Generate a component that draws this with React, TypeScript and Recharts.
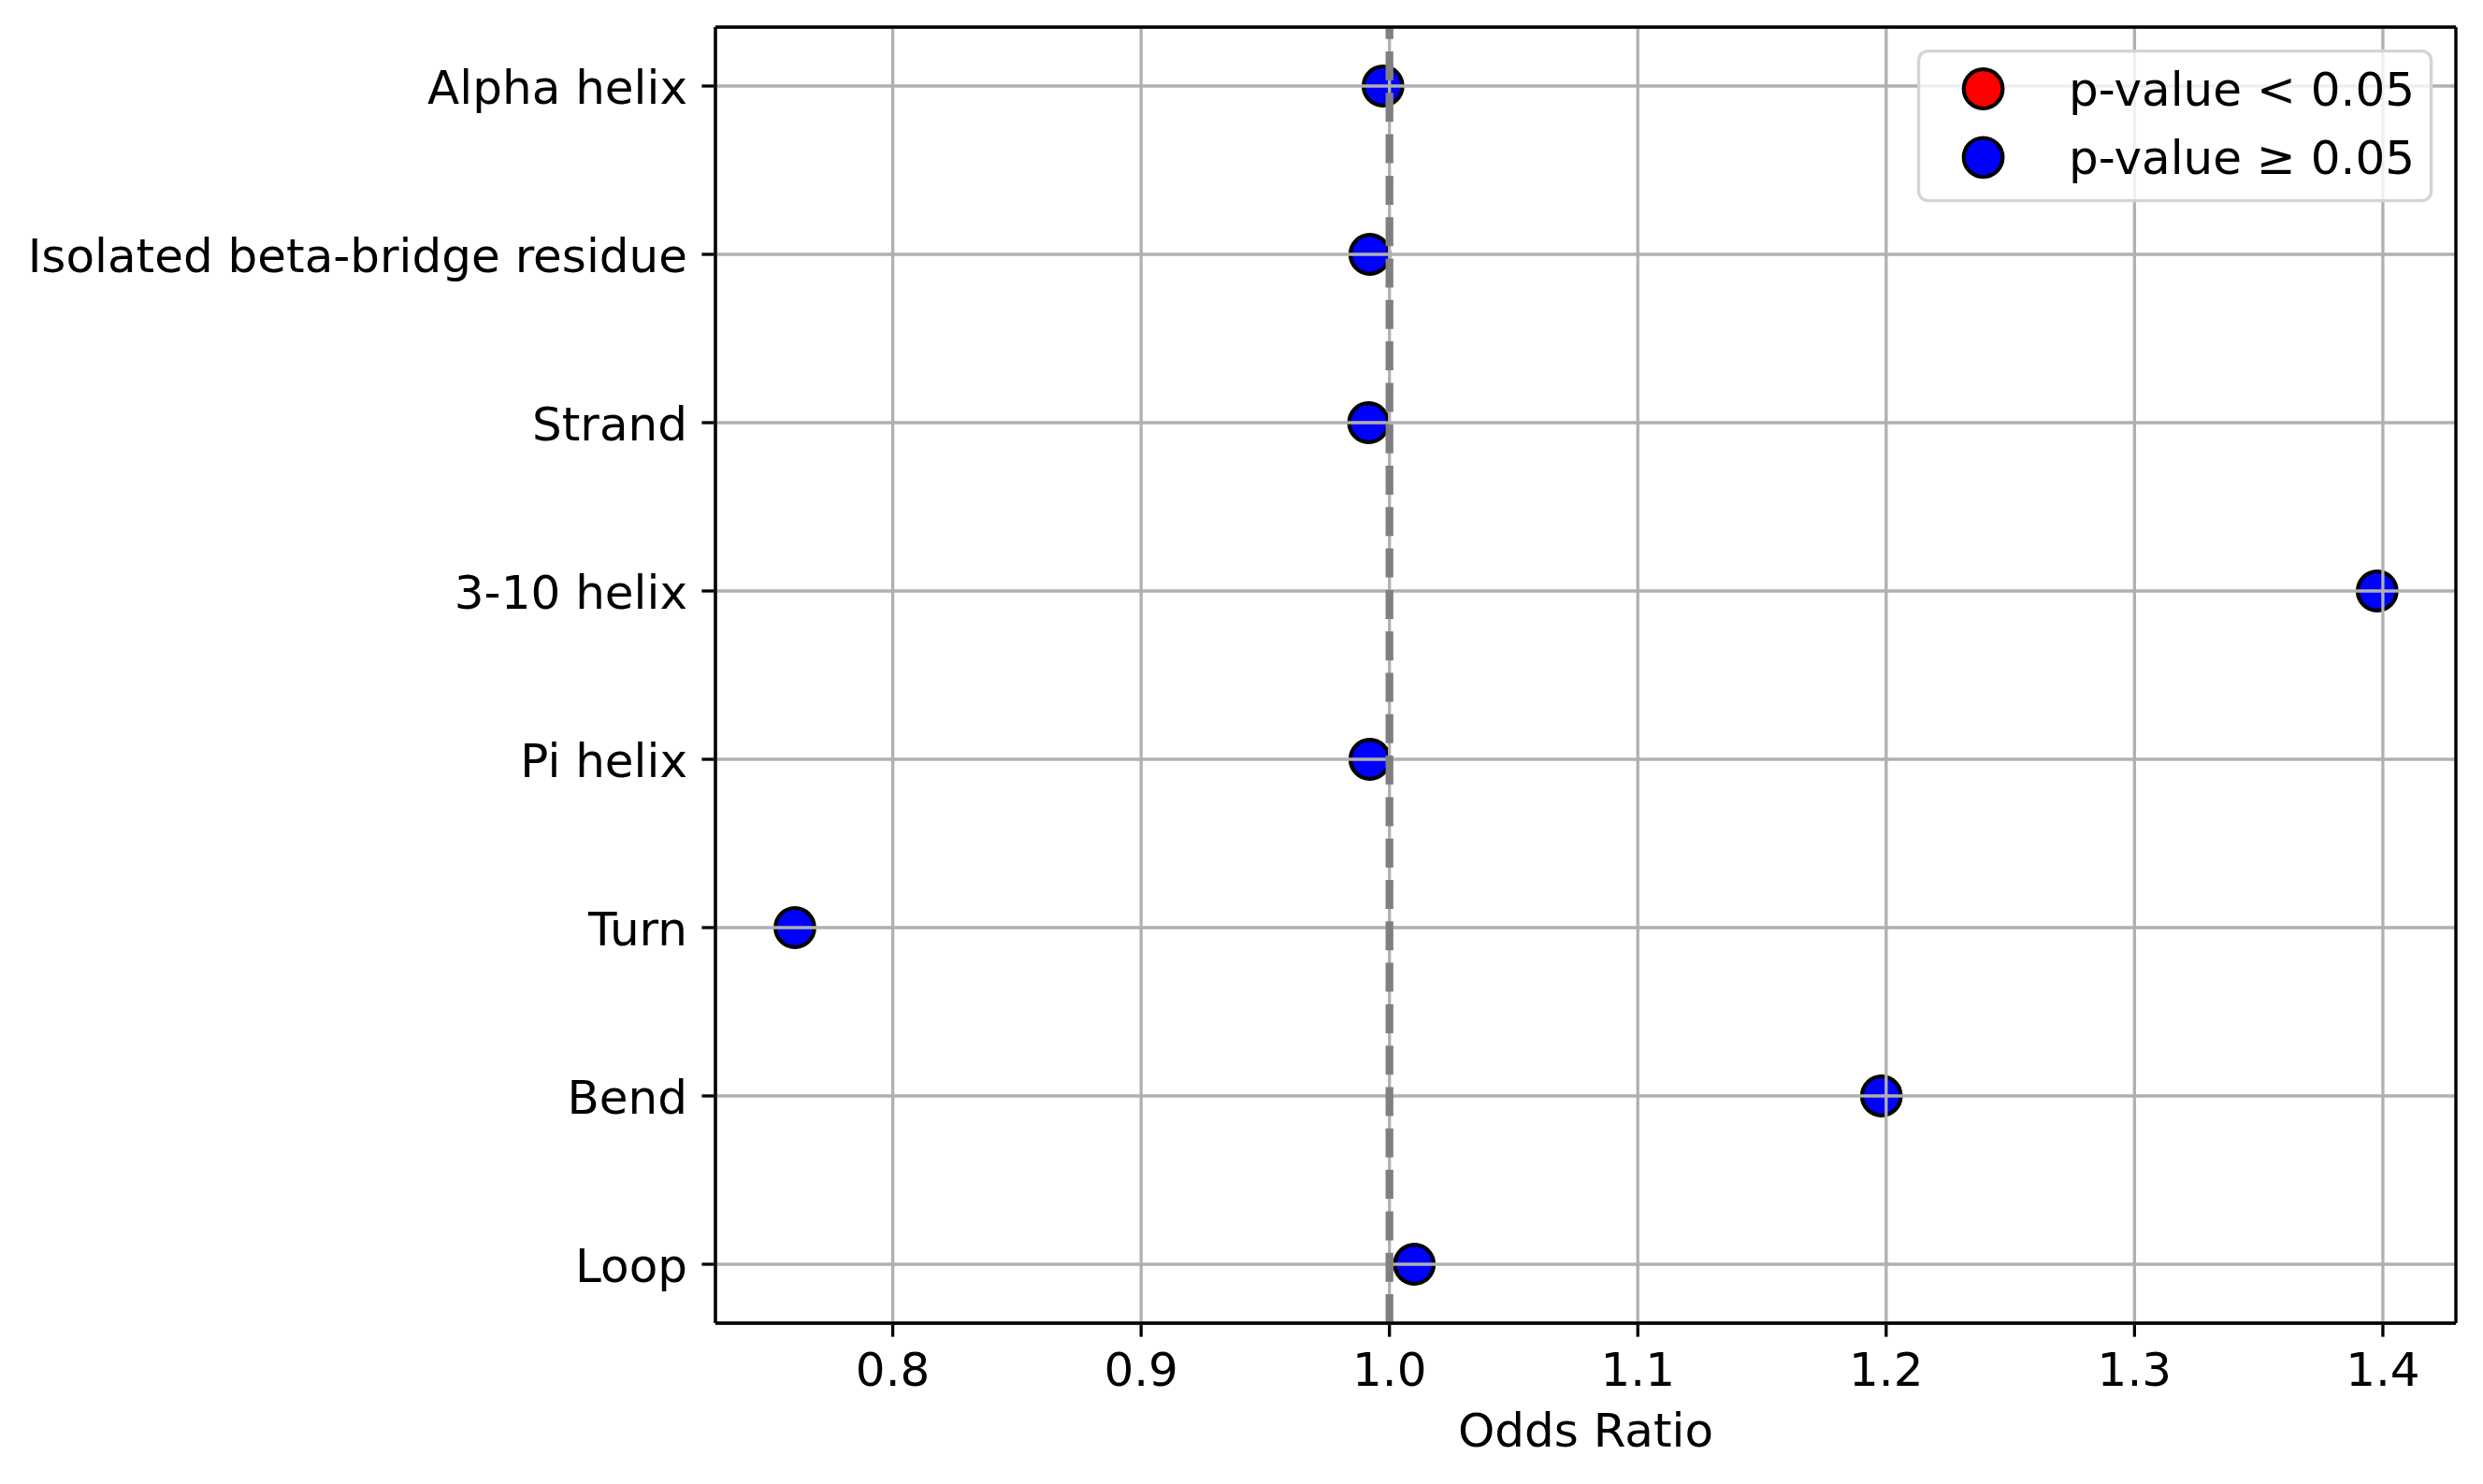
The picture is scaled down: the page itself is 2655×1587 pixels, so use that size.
import React from 'react';
import { ScatterChart, Scatter, XAxis, YAxis, CartesianGrid, ReferenceLine, Legend } from 'recharts';

const categories = [
  'Alpha helix',
  'Isolated beta-bridge residue',
  'Strand',
  '3-10 helix',
  'Pi helix',
  'Turn',
  'Bend',
  'Loop',
];
const oddsRatios = [0.9974, 0.9921, 0.9916, 1.3977, 0.9921, 0.7606, 1.1981, 1.01];
const pValueSignificant = [false, false, false, false, false, false, false, false];
const xTicks = [0.8, 0.9, 1.0, 1.1, 1.2, 1.3, 1.4];
const yTicks = [0, 1, 2, 3, 4, 5, 6, 7];
const legendLabels = ['p-value < 0.05', 'p-value \u2265 0.05'];
const legendColors = ['#ff0000', '#0000ff'];
const referenceOdds = 1.0;

const X_DOMAIN: [number, number] = [0.7286, 1.4294];
const Y_DOMAIN: [number, number] = [-0.35, 7.35];
const FONT = 'DejaVu Sans';
const FS = 50;

const rows = categories.map((c, i) => ({ category: c, idx: i, or: oddsRatios[i], sig: pValueSignificant[i] }));
const sigRows = rows.filter((r) => r.sig);
const nonSigRows = rows.filter((r) => !r.sig);

const makeDot = (color: string) => (props: any) => {
  const { cx, cy } = props;
  if (cx == null || cy == null) return <g />;
  return <circle cx={cx} cy={cy} r={20.8} fill={color} stroke="#000" strokeWidth={4.2} />;
};

const XTick = (props: any) => {
  const { x, payload } = props;
  return (
    <text x={x} y={1482} textAnchor="middle" fontSize={FS} fontFamily={FONT} fill="#000">
      {Number(payload.value).toFixed(1)}
    </text>
  );
};

const YTick = (props: any) => {
  const { y, payload } = props;
  return (
    <text x={735} y={y + 19} textAnchor="end" fontSize={FS} fontFamily={FONT} fill="#000">
      {categories[payload.value]}
    </text>
  );
};

const LegendBox = () => (
  <svg width={560} height={170} style={{ overflow: 'visible', display: 'block' }}>
    <rect x={1.6} y={1.6} width={548} height={160} rx={10} ry={10} fill="#ffffff" fillOpacity={0.8} stroke="#d4d4d4" strokeWidth={3.3} />
    {legendLabels.map((lab, i) => (
      <g key={lab}>
        <circle cx={70.6} cy={42 + i * 73.3} r={20.8} fill={legendColors[i]} stroke="#000" strokeWidth={4.2} />
        <text x={162} y={60 + i * 73.3} fontSize={FS} fontFamily={FONT} fill="#000">
          {lab}
        </text>
      </g>
    ))}
  </svg>
);

export default function App() {
  return (
    <div style={{ position: 'absolute', left: 0, top: 0, width: 2655, height: 1587, background: '#fff' }}>
      <ScatterChart width={2655} height={1587} margin={{ top: 29, right: 29, bottom: 0, left: 0 }}>
        <XAxis
          dataKey="or"
          type="number"
          domain={X_DOMAIN}
          allowDataOverflow
          ticks={xTicks}
          interval={0}
          height={172}
          tickSize={14.6}
          tickLine={{ stroke: '#000', strokeWidth: 3.3 }}
          axisLine={{ stroke: '#000', strokeWidth: 3.3 }}
          tick={<XTick />}
          label={(p: any) => {
            const vb = p.viewBox || {};
            const cx = (vb.x ?? 765) + (vb.width ?? 1861) / 2;
            return (
              <text x={cx} y={1547} textAnchor="middle" fontSize={FS} fontFamily={FONT} fill="#000">
                Odds Ratio
              </text>
            );
          }}
        />
        <YAxis
          dataKey="idx"
          type="number"
          domain={Y_DOMAIN}
          reversed
          allowDataOverflow
          ticks={yTicks}
          interval={0}
          width={765}
          tickSize={14.6}
          tickLine={{ stroke: '#000', strokeWidth: 3.3 }}
          axisLine={{ stroke: '#000', strokeWidth: 3.3 }}
          tick={<YTick />}
        />
        <Scatter data={sigRows} name={legendLabels[0]} fill={legendColors[0]} shape={makeDot(legendColors[0])} isAnimationActive={false} />
        <Scatter data={nonSigRows} name={legendLabels[1]} fill={legendColors[1]} shape={makeDot(legendColors[1])} isAnimationActive={false} />
        <CartesianGrid stroke="#b0b0b0" strokeWidth={3.3} zIndex={650} />
        <ReferenceLine x={referenceOdds} stroke="#808080" strokeWidth={8.3} strokeDasharray="31 13.3" zIndex={700} />
        <ReferenceLine x={X_DOMAIN[0]} stroke="#000" strokeWidth={3.3} zIndex={750} />
        <ReferenceLine x={X_DOMAIN[1]} stroke="#000" strokeWidth={3.3} zIndex={750} />
        <ReferenceLine y={Y_DOMAIN[0]} stroke="#000" strokeWidth={3.3} zIndex={750} />
        <ReferenceLine y={Y_DOMAIN[1]} stroke="#000" strokeWidth={3.3} zIndex={750} />
        <Legend
          layout="horizontal"
          verticalAlign="middle"
          align="center"
          wrapperStyle={{ position: 'absolute', left: 2050, top: 53, width: 560, height: 170, margin: 0, padding: 0 }}
          content={() => <LegendBox />}
        />
      </ScatterChart>
    </div>
  );
}
